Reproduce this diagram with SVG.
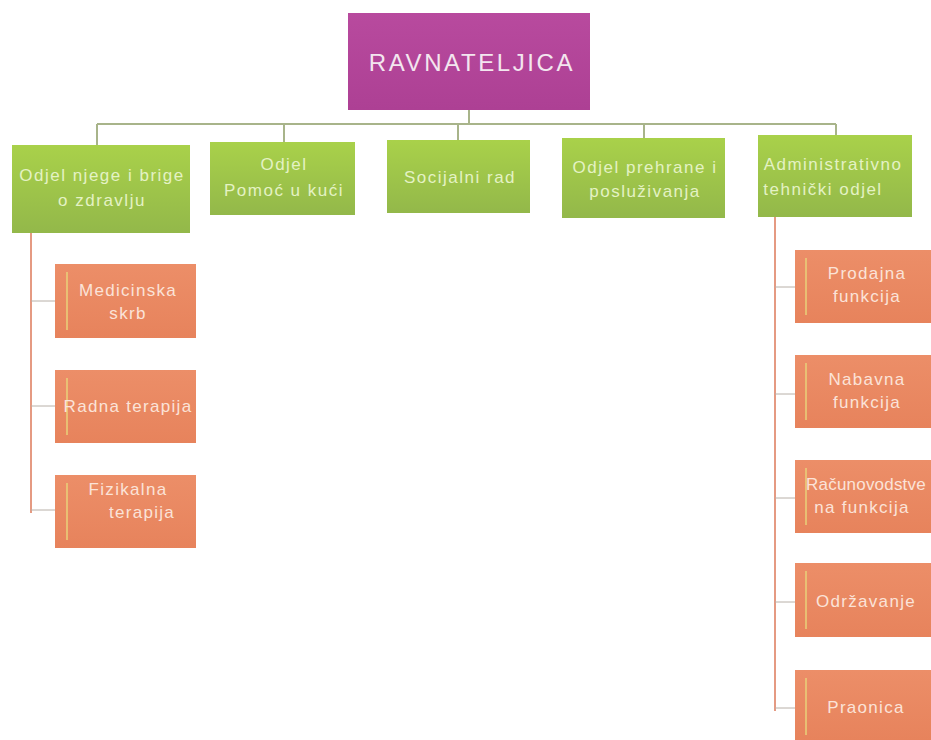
<svg xmlns="http://www.w3.org/2000/svg" width="931" height="740" viewBox="0 0 931 740">
<defs>
<linearGradient id="gG" x1="0" y1="0" x2="0" y2="1">
<stop offset="0" stop-color="#a9d14a"/>
<stop offset="1" stop-color="#93b84a"/>
</linearGradient>
<linearGradient id="gO" x1="0" y1="0" x2="0" y2="1">
<stop offset="0" stop-color="#ec8e68"/>
<stop offset="1" stop-color="#e7835c"/>
</linearGradient>
<linearGradient id="gM" x1="0" y1="0" x2="0" y2="1">
<stop offset="0" stop-color="#b84a9e"/>
<stop offset="1" stop-color="#ad4094"/>
</linearGradient>
</defs>
<style>
.g{fill:url(#gG)}
.o{fill:url(#gO)}
.tg{font-family:"Liberation Sans",Arial,sans-serif;font-size:17px;letter-spacing:1.5px;fill:#e4f2c4;text-anchor:middle}
.to{font-family:"Liberation Sans",Arial,sans-serif;font-size:17px;letter-spacing:1.3px;fill:#fbe3d8;text-anchor:middle}
.lg{stroke:#a8b48a;stroke-width:2;fill:none}
.lo{stroke:#e59a82;stroke-width:2;fill:none}
.tk{stroke:#b8b0a8;stroke-width:1;fill:none}
.hl{stroke:#e8d27a;stroke-width:1.5}
</style>
<rect width="931" height="740" fill="#ffffff"/>
<g id="connectors">
<path class="lg" d="M469 110V124M97 124H836M97 124V145M284 124V142M458 124V140M644 124V138M836 124V135"/>
<path class="lo" d="M31 233V513"/>
<path class="tk" d="M31 301H55M31 406H55M31 510H55"/>
<path class="lo" d="M775 217V711"/>
<path class="tk" d="M775 287H795M775 394H795M775 498H795M775 602H795M775 708H795"/>
</g>
<g id="ravnateljica">
<rect x="348" y="13" width="242" height="97" fill="url(#gM)"/>
<text x="472" y="71" font-family="'Liberation Sans',Arial,sans-serif" font-size="24" letter-spacing="2.6" fill="#f3e6ef" text-anchor="middle">RAVNATELJICA</text>
</g>
<g id="odjel-njege">
<rect class="g" x="12" y="145" width="178" height="88"/>
<text class="tg" x="102" y="181">Odjel njege i brige</text>
<text class="tg" x="102" y="206">o zdravlju</text>
</g>
<g id="pomoc-u-kuci">
<rect class="g" x="210" y="142" width="145" height="73"/>
<text class="tg" x="284" y="170">Odjel</text>
<text class="tg" x="284" y="196">Pomoć u kući</text>
</g>
<g id="socijalni-rad">
<rect class="g" x="387" y="140" width="143" height="73"/>
<text class="tg" x="460" y="183">Socijalni rad</text>
</g>
<g id="odjel-prehrane">
<rect class="g" x="562" y="138" width="163" height="80"/>
<text class="tg" x="645" y="173">Odjel prehrane i</text>
<text class="tg" x="645" y="197">posluživanja</text>
</g>
<g id="administrativno">
<rect class="g" x="758" y="135" width="154" height="82"/>
<text class="tg" x="833" y="170">Administrativno</text>
<text class="tg" x="823" y="195">tehnički odjel</text>
</g>
<g id="medicinska-skrb">
<rect class="o" x="55" y="264" width="141" height="74"/>
<line class="hl" x1="67" y1="272" x2="67" y2="330"/>
<text class="to" x="128" y="296">Medicinska</text>
<text class="to" x="128" y="319">skrb</text>
</g>
<g id="radna-terapija">
<rect class="o" x="55" y="370" width="141" height="73"/>
<line class="hl" x1="67" y1="378" x2="67" y2="435"/>
<text class="to" x="128" y="412">Radna terapija</text>
</g>
<g id="fizikalna-terapija">
<rect class="o" x="55" y="475" width="141" height="73"/>
<line class="hl" x1="67" y1="483" x2="67" y2="540"/>
<text class="to" x="128" y="495">Fizikalna</text>
<text class="to" x="142" y="518">terapija</text>
</g>
<g id="prodajna-funkcija">
<rect class="o" x="795" y="250" width="136" height="73"/>
<line class="hl" x1="806" y1="258" x2="806" y2="315"/>
<text class="to" x="867" y="279">Prodajna</text>
<text class="to" x="867" y="302">funkcija</text>
</g>
<g id="nabavna-funkcija">
<rect class="o" x="795" y="355" width="136" height="73"/>
<line class="hl" x1="806" y1="363" x2="806" y2="420"/>
<text class="to" x="867" y="385">Nabavna</text>
<text class="to" x="867" y="408">funkcija</text>
</g>
<g id="racunovodstvena-funkcija">
<rect class="o" x="795" y="460" width="136" height="73"/>
<line class="hl" x1="806" y1="468" x2="806" y2="525"/>
<text class="to" x="866" y="490" style="letter-spacing:0.2px">Računovodstve</text>
<text class="to" x="862" y="513">na funkcija</text>
</g>
<g id="odrzavanje">
<rect class="o" x="795" y="563" width="136" height="74"/>
<line class="hl" x1="806" y1="571" x2="806" y2="629"/>
<text class="to" x="866" y="607">Održavanje</text>
</g>
<g id="praonica">
<rect class="o" x="795" y="670" width="136" height="70"/>
<line class="hl" x1="806" y1="678" x2="806" y2="735"/>
<text class="to" x="866" y="713">Praonica</text>
</g>
</svg>
